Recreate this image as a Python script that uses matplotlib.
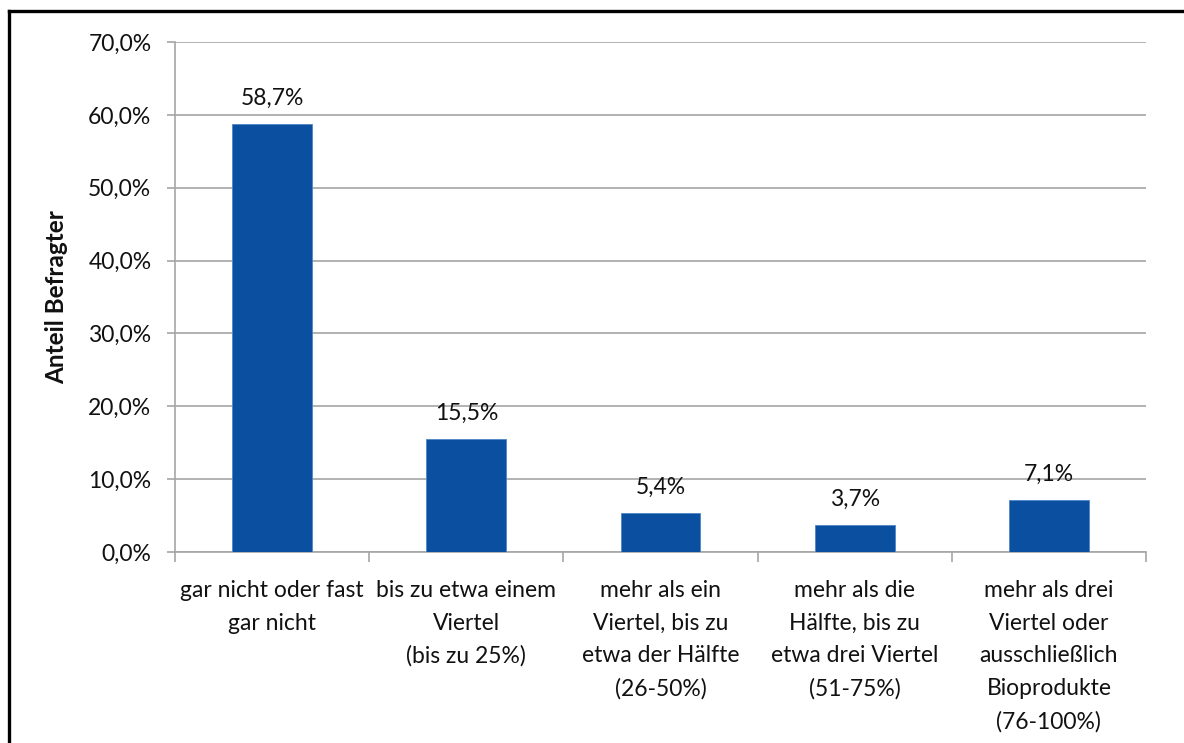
import matplotlib
matplotlib.use("Agg")
import matplotlib.pyplot as plt
from matplotlib.lines import Line2D
from matplotlib.ticker import FuncFormatter, MultipleLocator

plt.rcParams['font.family'] = ['Lato', 'DejaVu Sans']

categories = [
    "gar nicht oder fast\ngar nicht",
    "bis zu etwa einem\nViertel\n(bis zu 25%)",
    "mehr als ein\nViertel, bis zu\netwa der Hälfte\n(26-50%)",
    "mehr als die\nHälfte, bis zu\netwa drei Viertel\n(51-75%)",
    "mehr als drei\nViertel oder\nausschließlich\nBioprodukte\n(76-100%)",
]
values = [58.7, 15.5, 5.4, 3.7, 7.1]
y_label = "Anteil Befragter"

W, H = 1184, 743
FS = 16.5
fig = plt.figure(figsize=(W / 100, H / 100), dpi=100)
ax = fig.add_axes([175 / W, 1 - 552 / H, (1146 - 175) / W, (552 - 42) / H])

bar_color = "#0A4FA0"
x = list(range(len(values)))
ax.bar(x, values, width=0.41, color=bar_color, edgecolor="#4F86C6", linewidth=0.6, zorder=3)

for xi, v in zip(x, values):
    ax.annotate(f"{v:.1f}%".replace(".", ","), (xi, v), xytext=(0, 11),
                textcoords="offset points", ha="center", va="bottom",
                fontsize=FS, color="#111111")

ax.set_xlim(-0.5, len(values) - 0.5)
ax.set_ylim(0, 70)
ax.yaxis.set_major_locator(MultipleLocator(10))
ax.yaxis.set_major_formatter(FuncFormatter(lambda v, p: f"{v:.1f}%".replace(".", ",")))
ax.grid(axis="y", color="#A6A6A6", linewidth=1.2, zorder=0)
ax.set_axisbelow(True)

for side in ("top", "right"):
    ax.spines[side].set_visible(False)
for side in ("left", "bottom"):
    ax.spines[side].set_color("#A6A6A6")
    ax.spines[side].set_linewidth(1.2)

ax.tick_params(axis="y", length=6, width=1.2, color="#A6A6A6", labelsize=FS,
               labelcolor="#111111", pad=11)
# category boundaries carry the x tick marks; labels sit at bar centres
ax.set_xticks([i - 0.5 for i in range(len(values) + 1)])
ax.set_xticklabels([])
ax.tick_params(axis="x", length=7, width=1.2, color="#A6A6A6")
for xi, lab in zip(x, categories):
    ax.text(xi, -0.055, lab, transform=ax.get_xaxis_transform(), ha="center", va="top",
            fontsize=FS, color="#111111", linespacing=1.68)

fig.text(57 / W, 1 - 297 / H, y_label, rotation=90, ha="center", va="center",
         fontsize=17.5, fontweight="bold", color="#111111")

# frame lines along the top and left edges
fig.add_artist(Line2D([9 / W, 1], [1 - 11 / H, 1 - 11 / H], transform=fig.transFigure,
                      color="black", linewidth=2.4))
fig.add_artist(Line2D([9 / W, 9 / W], [0, 1 - 11 / H], transform=fig.transFigure,
                      color="black", linewidth=2.4))

fig.savefig("out.png", dpi=100, facecolor="white")
